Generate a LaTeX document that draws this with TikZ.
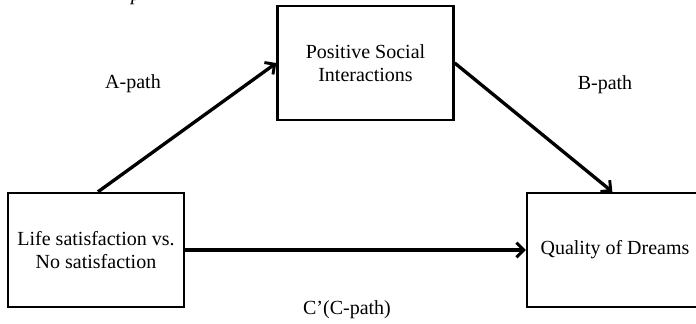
\documentclass[tikz,border=0pt]{standalone}
\usepackage{fontspec}
\setmainfont{Liberation Serif}
\usetikzlibrary{arrows.meta}
\begin{document}
\begin{tikzpicture}[x=0.75pt,y=-0.75pt,
  box/.style={draw,line width=1.8pt,minimum width=132pt,minimum height=85.5pt,align=center,inner sep=0pt,font=\fontsize{15}{17.5}\selectfont},
  conn/.style={line width=2.5pt,-{Straight Barb[length=5.5pt,width=11pt,line width=2.2pt]}},
  lbl/.style={font=\fontsize{15}{17.5}\selectfont}]
\useasboundingbox (0,0) rectangle (696,324);
\node[box] (top) at (365.5,63) {Positive Social\\Interactions};
\node[box] (left) at (96,250) {Life satisfaction vs.\\No satisfaction};
\node[box] (right) at (615,250) {Quality of Dreams};
\draw[conn] ([xshift=1.5pt]left.north) -- (top.west);
\draw[conn] (top.east) -- ([xshift=-2pt]right.north);
\draw[conn] (left.east) -- (right.west);
\node[lbl] (a) at (133,84) {A-path};
\node[lbl] (b) at (605,85) {B-path};
\node[lbl] (c) at (347,310) {C’(C-path)};
\node[lbl,anchor=base] (p) at (136,1) {\itshape p};
\end{tikzpicture}
\end{document}
